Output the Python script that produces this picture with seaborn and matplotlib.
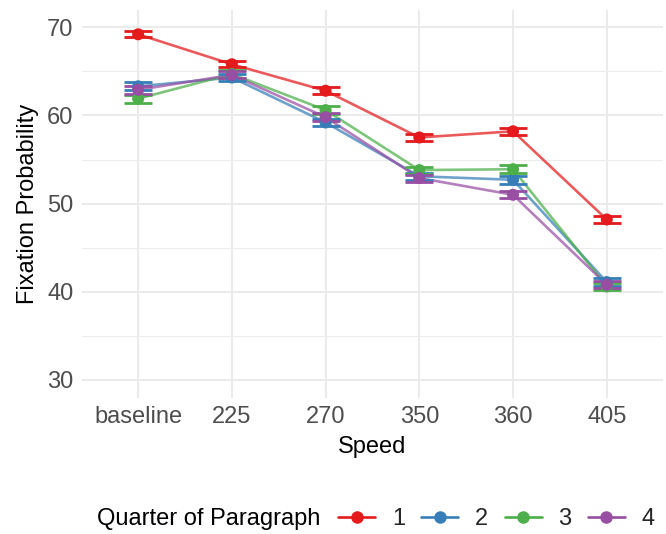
import matplotlib
matplotlib.use("Agg")
import matplotlib.pyplot as plt
from matplotlib.lines import Line2D
from matplotlib.ticker import MultipleLocator
import numpy as np
import pandas as pd
import seaborn as sns

# Speed conditions (x categories)
speeds = ["baseline", "225", "270", "350", "360", "405"]

# Mean fixation probability per quarter of paragraph
q1 = [69.2, 65.8, 62.8, 57.5, 58.2, 48.2]
q2 = [63.3, 64.3, 59.2, 53.1, 52.7, 41.1]
q3 = [61.9, 64.7, 60.6, 53.8, 53.9, 40.6]
q4 = [62.9, 64.6, 59.8, 52.9, 51.0, 40.8]

# Standard errors
se1 = [0.35, 0.35, 0.40, 0.40, 0.40, 0.45]
se2 = [0.45, 0.40, 0.45, 0.40, 0.45, 0.45]
se3 = [0.45, 0.40, 0.45, 0.40, 0.45, 0.40]
se4 = [0.45, 0.40, 0.45, 0.40, 0.40, 0.40]

quarters = ["1", "2", "3", "4"]
colors = ["#E41A1C", "#377EB8", "#4DAF4A", "#984EA3"]

rows = []
for q, means, ses in zip(quarters, [q1, q2, q3, q4], [se1, se2, se3, se4]):
    for s, m, e in zip(speeds, means, ses):
        rows.append({"Speed": s, "prob": m, "se": e, "quarter": q})
df = pd.DataFrame(rows)
df["pos"] = df["Speed"].map({s: i for i, s in enumerate(speeds)})

sns.set_theme(style="whitegrid")
plt.rcParams["font.family"] = ["Liberation Sans", "DejaVu Sans"]

fig = plt.figure(figsize=(6.66, 5.34), dpi=100)
ax = fig.add_axes([0.123, 0.2554, 0.8725, 0.7266])

palette = dict(zip(quarters, colors))

sns.lineplot(data=df, x="pos", y="prob", hue="quarter", palette=palette,
             linewidth=1.9, alpha=0.72, legend=False, ax=ax, zorder=2)

for q in quarters:
    sub = df[df["quarter"] == q]
    ax.errorbar(sub["pos"], sub["prob"], yerr=sub["se"], fmt="none",
                ecolor=palette[q], elinewidth=2.0, capsize=10.4,
                capthick=2.0, zorder=3)

sns.scatterplot(data=df, x="pos", y="prob", hue="quarter", palette=palette,
                s=75, edgecolor="none", legend=False, ax=ax, zorder=4)

ax.set_xlim(-0.6, 5.6)
ax.set_ylim(28, 72)
ax.set_xticks(range(len(speeds)))
ax.set_xticklabels(speeds)
ax.yaxis.set_major_locator(MultipleLocator(10))
ax.yaxis.set_minor_locator(MultipleLocator(5))
ax.set_yticks([30, 40, 50, 60, 70])

ax.set_facecolor("white")
for sp in ax.spines.values():
    sp.set_visible(False)
ax.grid(which="major", color="#EBEBEB", linewidth=1.4)
ax.grid(which="minor", axis="y", color="#EBEBEB", linewidth=0.75)
ax.tick_params(which="both", length=0, labelsize=17, colors="#4D4D4D", pad=6)

ax.set_xlabel("Speed", fontsize=17, color="black", labelpad=6)
ax.set_ylabel("Fixation Probability", fontsize=17, color="black", labelpad=6)

# Legend along the bottom with the title on the left
fig.text(97 / 666, 1 - 519 / 534, "Quarter of Paragraph", fontsize=17,
         ha="left", va="center", color="black")
handles = [Line2D([0], [0], color=c, lw=1.9, marker="o", markersize=8)
           for c in colors]
fig.legend(handles, quarters, loc="center left",
           bbox_to_anchor=(338 / 666, 1 - 519 / 534), ncol=4, frameon=False,
           fontsize=17, handlelength=1.57, handletextpad=0.72,
           columnspacing=0.68, borderpad=0, borderaxespad=0)

fig.savefig("out.png", dpi=100, facecolor="white")
